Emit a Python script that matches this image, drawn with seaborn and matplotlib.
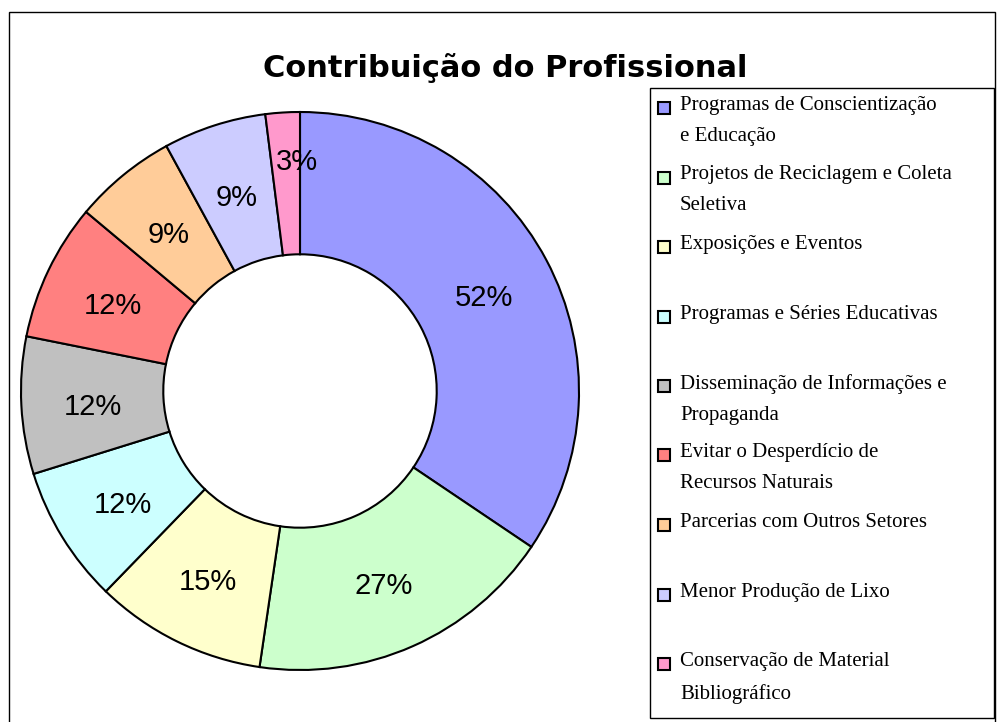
import matplotlib
matplotlib.use("Agg")
import numpy as np
import matplotlib.pyplot as plt
import matplotlib.transforms as mtransforms
from matplotlib.patches import Rectangle
import seaborn as sns

# Data (percent of respondents, multiple answers allowed)
categories = [
    "Programas de Conscientização\ne Educação",
    "Projetos de Reciclagem e Coleta\nSeletiva",
    "Exposições e Eventos",
    "Programas e Séries Educativas",
    "Disseminação de Informações e\nPropaganda",
    "Evitar o Desperdício de\nRecursos Naturais",
    "Parcerias com Outros Setores",
    "Menor Produção de Lixo",
    "Conservação de Material\nBibliográfico",
]
values = [52, 27, 15, 12, 12, 12, 9, 9, 3]
colors = ["#9999FF", "#CCFFCC", "#FFFFCC", "#CCFFFF", "#C0C0C0",
          "#FF8080", "#FFCC99", "#CCCCFF", "#FF99CC"]

sns.set_theme(style="white")
plt.rcParams["text.color"] = "black"
palette = sns.color_palette(colors)
total = sum(values)

W, H = 997, 722
fig = plt.figure(figsize=(W / 100, H / 100), dpi=100)
fig.patch.set_facecolor("white")

# outer frame of the chart area
fig.patches.append(Rectangle((9 / W, -0.05), 986 / W, 1.05 - 12 / H,
                             transform=fig.transFigure, fill=False,
                             edgecolor="black", linewidth=1.0))

# donut
cx, cy, r = 300, 391, 279
ax = fig.add_axes([(cx - r) / W, (H - cy - r) / H, 2 * r / W, 2 * r / H])
wedges, texts, autotexts = ax.pie(
    values, colors=palette, startangle=90, counterclock=False,
    wedgeprops=dict(width=0.51, edgecolor="black", linewidth=1.5),
    autopct=lambda p: f"{round(p * total / 100)}%", pctdistance=0.745,
    textprops=dict(fontsize=21, family="Liberation Sans", color="black"),
)
ax.set_xlim(-1, 1)
ax.set_ylim(-1, 1)
ax.set_aspect("equal")
ax.axis("off")

# labels sit a little lower in the original; the tiny slice label goes outward
shift = mtransforms.offset_copy(ax.transData, fig=fig, x=0, y=-5, units="dots")
for w, t in zip(wedges, autotexts):
    t.set_transform(shift)
small = autotexts[-1]
ang = np.deg2rad((wedges[-1].theta1 + wedges[-1].theta2) / 2)
small.set_position((0.84 * np.cos(ang) + 0.04, 0.84 * np.sin(ang)))

fig.text(505 / W, 1 - 68 / H, "Contribuição do Profissional",
         ha="center", va="center", fontsize=22, fontweight="bold",
         family="DejaVu Sans", color="black")

# legend box drawn by hand so the swatch sits on the first text line
lx0, ly0, lx1, ly1 = 650, 88, 994, 718
fig.patches.append(Rectangle((lx0 / W, 1 - ly1 / H), (lx1 - lx0) / W,
                             (ly1 - ly0) / H, transform=fig.transFigure,
                             fill=False, edgecolor="black", linewidth=1.0))
first_y = 108
step = 69.5
for i, (lab, col) in enumerate(zip(categories, palette)):
    y = first_y + i * step
    fig.patches.append(Rectangle((658 / W, 1 - (y + 6) / H), 12 / W, 12 / H,
                                 transform=fig.transFigure, facecolor=col,
                                 edgecolor="black", linewidth=1.5))
    fig.text(680 / W, 1 - (y - 12) / H, lab, ha="left", va="top",
             fontsize=15, family="Liberation Serif", linespacing=1.85,
             color="black")

fig.savefig("out.png", dpi=100)
